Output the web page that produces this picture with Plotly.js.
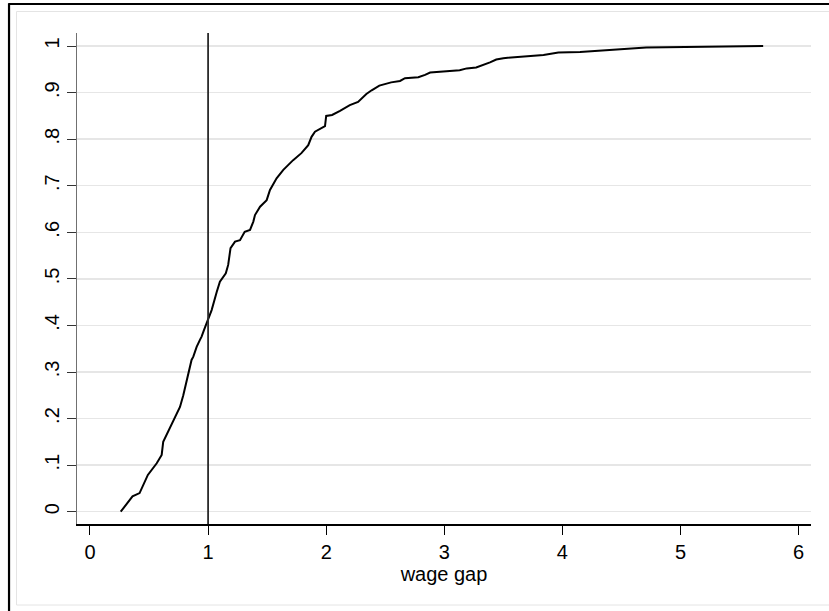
<!DOCTYPE html>
<html>
<head>
<meta charset="utf-8">
<script src="https://cdn.plot.ly/plotly-3.0.1.min.js"></script>
<style>html,body{margin:0;padding:0;background:#fff;}</style>
</head>
<body>
<div id="chart" style="width:829px;height:611px;"></div>
<script>
// Cumulative distribution of the wage gap
const wageGap = [0.26,0.31,0.36,0.42,0.45,0.49,0.565,0.607,0.62,0.663,0.72,0.762,0.79,0.813,0.833,0.86,0.875,0.903,0.931,0.945,0.965,0.988,1.03,1.073,1.10,1.15,1.17,1.19,1.228,1.27,1.31,1.355,1.383,1.397,1.44,1.496,1.524,1.58,1.637,1.72,1.79,1.848,1.876,1.905,1.99,2.0,2.05,2.117,2.2,2.27,2.34,2.385,2.45,2.55,2.625,2.667,2.78,2.837,2.88,3.13,3.19,3.27,3.33,3.387,3.44,3.50,3.84,3.966,4.15,4.32,4.71,5.70];
const cdf     = [0.0,0.017,0.033,0.04,0.057,0.079,0.104,0.122,0.150,0.172,0.204,0.225,0.25,0.276,0.297,0.326,0.333,0.354,0.369,0.376,0.39,0.405,0.433,0.472,0.494,0.512,0.53,0.566,0.58,0.583,0.601,0.605,0.623,0.637,0.655,0.669,0.691,0.716,0.734,0.755,0.77,0.787,0.805,0.816,0.828,0.85,0.852,0.861,0.873,0.88,0.897,0.905,0.915,0.922,0.925,0.931,0.933,0.938,0.943,0.948,0.952,0.954,0.959,0.965,0.971,0.974,0.981,0.986,0.987,0.99,0.997,1.0];

const xTickVals = [0,1,2,3,4,5,6];
const xTickText = ["0","1","2","3","4","5","6"];
const yTickVals = [0,0.1,0.2,0.3,0.4,0.5,0.6,0.7,0.8,0.9,1];
const yTickText = ["0",".1",".2",".3",".4",".5",".6",".7",".8",".9","1"];
const refLineX = 1;
const xTitle = "wage gap";

const font = "Liberation Sans, Arial, sans-serif";

const trace = {
  x: wageGap, y: cdf, type: "scatter", mode: "lines",
  line: {color: "#000", width: 2}, hoverinfo: "skip"
};

const layout = {
  width: 829, height: 611,
  margin: {l: 77, r: 18, t: 33, b: 87, pad: 0},
  paper_bgcolor: "#fff", plot_bgcolor: "#fff",
  showlegend: false,
  font: {family: font, size: 20, color: "#000"},
  xaxis: {
    range: [-0.11, 6.105], tickmode: "array", tickvals: xTickVals, ticktext: xTickText,
    ticks: "outside", ticklen: 9, tickwidth: 1, tickcolor: "#000",
    showline: true, linecolor: "#000", linewidth: 1.5,
    showgrid: false, zeroline: false, automargin: false,
    tickfont: {family: font, size: 20, color: "#000"},
    title: {text: xTitle, font: {family: font, size: 20, color: "#000"}, standoff: 0}
  },
  yaxis: {
    range: [-0.0264, 1.028], tickmode: "array", tickvals: yTickVals, ticktext: yTickText,
    tickangle: -90, ticks: "outside", ticklen: 9, tickwidth: 1, tickcolor: "#333",
    showline: true, linecolor: "#707070", linewidth: 1.5,
    showgrid: true, gridcolor: "#e6e6e6", gridwidth: 1.5, zeroline: false, automargin: false,
    tickfont: {family: font, size: 20, color: "#000"}
  },
  shapes: [
    {type: "line", xref: "x", yref: "paper", x0: refLineX, x1: refLineX, y0: 0, y1: 1,
     line: {color: "#2a2a2a", width: 1.8}},
    // outer frame (left and top edges visible)
    {type: "line", xref: "paper", yref: "paper", x0: -0.0926, x1: -0.0926, y0: 1.0601, y1: -0.2,
     line: {color: "#000", width: 2.2}},
    {type: "line", xref: "paper", yref: "paper", x0: -0.0936, x1: 1.05, y0: 1.0591, y1: 1.0591,
     line: {color: "#000", width: 2.2}},
    // inner light frame
    {type: "rect", xref: "paper", yref: "paper", x0: -0.0824, x1: 1.05, y0: -0.165, y1: 1.0438,
     line: {color: "#e4e4e4", width: 1}, fillcolor: "rgba(0,0,0,0)"}
  ]
};

Plotly.newPlot("chart", [trace], layout, {displayModeBar: false, staticPlot: true});
</script>
</body>
</html>
